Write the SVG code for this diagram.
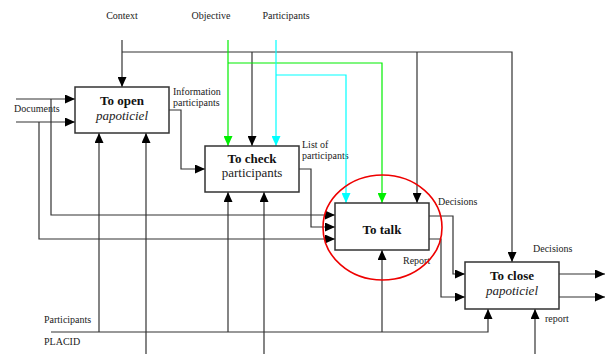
<svg xmlns="http://www.w3.org/2000/svg" width="606" height="354" viewBox="0 0 606 354">
<style>
.box{fill:#fff;stroke:#333;stroke-width:1.5}
.ln{fill:none;stroke:#333;stroke-width:1.2}
.g{fill:none;stroke:#00ee00;stroke-width:1.2}
.c{fill:none;stroke:#00ffff;stroke-width:1.2}
.t{font-family:"Liberation Serif",serif;font-size:10px;fill:#222}
.b{font-family:"Liberation Serif",serif;font-size:13px;font-weight:bold;fill:#111;text-anchor:middle}
.i{font-family:"Liberation Serif",serif;font-size:13px;font-style:italic;fill:#222;text-anchor:middle}
.n{font-family:"Liberation Serif",serif;font-size:13px;fill:#222;text-anchor:middle}
</style>
<defs>
<marker id="a" markerUnits="userSpaceOnUse" markerWidth="10" markerHeight="9" refX="10" refY="4.5" orient="auto"><path d="M0,0 L10,4.5 L0,9 z" fill="#000"/></marker>
<marker id="ag" markerUnits="userSpaceOnUse" markerWidth="10" markerHeight="9" refX="10" refY="4.5" orient="auto"><path d="M0,0 L10,4.5 L0,9 z" fill="#00ee00"/></marker>
<marker id="ac" markerUnits="userSpaceOnUse" markerWidth="10" markerHeight="9" refX="10" refY="4.5" orient="auto"><path d="M0,0 L10,4.5 L0,9 z" fill="#00ffff"/></marker>
</defs>
<rect width="606" height="354" fill="#fff"/>
<g id="labels">
<text class="t" x="122" y="19" text-anchor="middle">Context</text>
<text class="t" x="211" y="19" text-anchor="middle">Objective</text>
<text class="t" x="286" y="19" text-anchor="middle">Participants</text>
<text class="t" x="14" y="112">Documents</text>
<text class="t" x="173" y="95">Information</text>
<text class="t" x="173" y="106">participants</text>
<text class="t" x="302" y="148">List of</text>
<text class="t" x="302" y="159">participants</text>
<text class="t" x="438" y="205">Decisions</text>
<text class="t" x="403" y="264">Report</text>
<text class="t" x="533" y="252">Decisions</text>
<text class="t" x="545" y="322">report</text>
<text class="t" x="44" y="323">Participants</text>
<text class="t" x="44" y="345">PLACID</text>
</g>
<g id="connectors">
<path class="ln" d="M122,40 V87" marker-end="url(#a)"/>
<path class="ln" d="M122,52 H512 V262" marker-end="url(#a)"/>
<path class="ln" d="M252,52 V146" marker-end="url(#a)"/>
<path class="ln" d="M417,52 V203" marker-end="url(#a)"/>
<path class="g" d="M228,40 V146" marker-end="url(#ag)"/>
<path class="g" d="M228,63 H382 V203" marker-end="url(#ag)"/>
<path class="c" d="M276,40 V146" marker-end="url(#ac)"/>
<path class="c" d="M276,75 H346 V203" marker-end="url(#ac)"/>
<path class="ln" d="M16,99 H75" marker-end="url(#a)"/>
<path class="ln" d="M16,122 H75" marker-end="url(#a)"/>
<path class="ln" d="M51,99 V215 H335" marker-end="url(#a)"/>
<path class="ln" d="M39,122 V239 H335" marker-end="url(#a)"/>
<path class="ln" d="M169,110 H181 V169 H205" marker-end="url(#a)"/>
<path class="ln" d="M299,169 H311 V227 H335" marker-end="url(#a)"/>
<path class="ln" d="M99,332 V133" marker-end="url(#a)"/>
<path class="ln" d="M146,354 V133" marker-end="url(#a)"/>
<path class="ln" d="M228,332 V192" marker-end="url(#a)"/>
<path class="ln" d="M264,354 V192" marker-end="url(#a)"/>
<path class="ln" d="M382,332 V250" marker-end="url(#a)"/>
<path class="ln" d="M51,332 H488 V309" marker-end="url(#a)"/>
<path class="ln" d="M429,216 H453 V274 H465" marker-end="url(#a)"/>
<path class="ln" d="M429,239 H441 V297 H465" marker-end="url(#a)"/>
<path class="ln" d="M559,274 H605" marker-end="url(#a)"/>
<path class="ln" d="M559,297 H605" marker-end="url(#a)"/>
<path class="ln" d="M535,354 V309" marker-end="url(#a)"/>
</g>
<g id="open">
<rect class="box" x="75" y="87" width="94" height="46"/>
<text class="b" x="122" y="105">To open</text>
<text class="i" x="122" y="120">papoticiel</text>
</g>
<g id="check">
<rect class="box" x="205" y="146" width="94" height="46"/>
<text class="b" x="252" y="163">To check</text>
<text class="n" x="252" y="177">participants</text>
</g>
<g id="talk">
<rect class="box" x="335" y="203" width="94" height="47"/>
<text class="b" x="382" y="234">To talk</text>
</g>
<g id="close">
<rect class="box" x="465" y="262" width="94" height="47"/>
<text class="b" x="512" y="280">To close</text>
<text class="i" x="512" y="295">papoticiel</text>
</g>
<g id="highlight">
<ellipse cx="382.5" cy="227.5" rx="59.5" ry="52.5" fill="none" stroke="#ee0000" stroke-width="1.6"/>
</g>
</svg>
